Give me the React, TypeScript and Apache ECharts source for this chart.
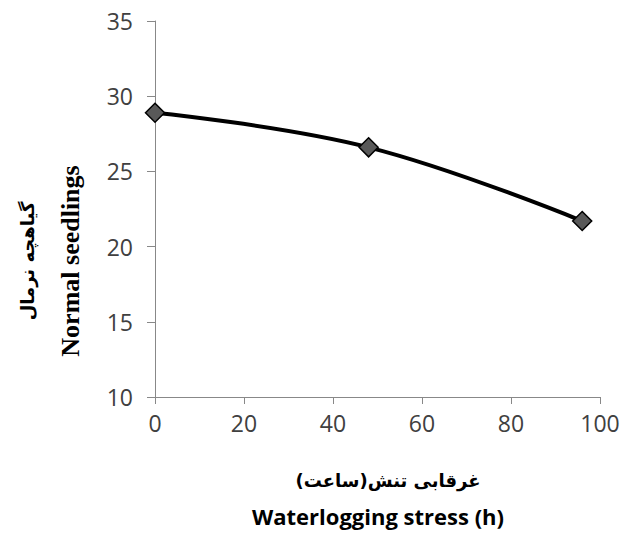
import React, { useEffect, useRef } from "react";
import * as echarts from "echarts";

const xValues = [0, 48, 96];
const yValues = [28.9, 26.6, 21.7];
// pieces of the Persian x-axis title, in the visual left-to-right order of the reference: "(ساعت)تنش غرقابی"
const xAxisTitleFaParts = ["(", "ساعت", ")", "تنش", " ", "غرقابی"];
const xAxisTitleEn = "Waterlogging stress (h)";
const yAxisTitleFa = "گیاهچه نرمال";
const yAxisTitleEn = "Normal seedlings";

export default function App() {
  const ref = useRef<HTMLDivElement>(null);
  useEffect(() => {
    if (!ref.current) return;
    const chart = echarts.init(ref.current, null, { renderer: "svg" });
    const labelStyle = { color: "#404040", fontFamily: "Open Sans", fontSize: 23 };
    const faTitle = xAxisTitleFaParts.map((p) => `{t|${p}}`).join("");
    chart.setOption({
      animation: false,
      backgroundColor: "#ffffff",
      grid: { left: 155, right: 31, top: 21, bottom: 138, containLabel: false },
      xAxis: {
        type: "value",
        min: 0,
        max: 100,
        interval: 20,
        axisLine: { show: true, lineStyle: { color: "#888888", width: 1 } },
        axisTick: { show: true, length: 7, lineStyle: { color: "#888888" } },
        splitLine: { show: false },
        axisLabel: { ...labelStyle, margin: 14 },
      },
      yAxis: {
        type: "value",
        min: 10,
        max: 35,
        interval: 5,
        axisLine: { show: true, lineStyle: { color: "#888888", width: 1 } },
        axisTick: { show: true, length: 8, lineStyle: { color: "#888888" } },
        splitLine: { show: false },
        axisLabel: { ...labelStyle, margin: 22 },
      },
      series: [
        {
          type: "line",
          data: xValues.map((x, i) => [x, yValues[i]]),
          smooth: 0.4,
          lineStyle: { color: "#000000", width: 4 },
          symbol: "diamond",
          symbolSize: 19,
          itemStyle: { color: "#595959", borderColor: "#000000", borderWidth: 1.5 },
        },
      ],
      graphic: [
        {
          type: "text",
          x: 388,
          y: 480,
          style: {
            text: faTitle,
            rich: {
              t: {
                fontFamily: "DejaVu Sans",
                fontWeight: "bold",
                fontSize: 18,
                fill: "#000000",
                color: "#000000",
              },
            },
            fill: "#000000",
            align: "center",
            verticalAlign: "middle",
          },
        },
        {
          type: "text",
          x: 378,
          y: 516,
          style: {
            text: xAxisTitleEn,
            fontFamily: "Open Sans",
            fontWeight: "bold",
            fontSize: 22,
            fill: "#000000",
            align: "center",
            verticalAlign: "middle",
          },
        },
        {
          type: "text",
          x: 70,
          y: 261,
          rotation: Math.PI / 2,
          style: {
            text: yAxisTitleEn,
            fontFamily: "Liberation Serif",
            fontWeight: "bold",
            fontSize: 26,
            fill: "#000000",
            align: "center",
            verticalAlign: "middle",
          },
        },
        {
          type: "text",
          x: 27,
          y: 261,
          rotation: Math.PI / 2,
          style: {
            text: yAxisTitleFa,
            fontFamily: "DejaVu Sans",
            fontWeight: "bold",
            fontSize: 18,
            fill: "#000000",
            align: "center",
            verticalAlign: "middle",
          },
        },
      ],
    });
    return () => chart.dispose();
  }, []);
  return (
    <div
      ref={ref}
      style={{ position: "absolute", left: 0, top: 0, width: 631, height: 535 }}
    />
  );
}
